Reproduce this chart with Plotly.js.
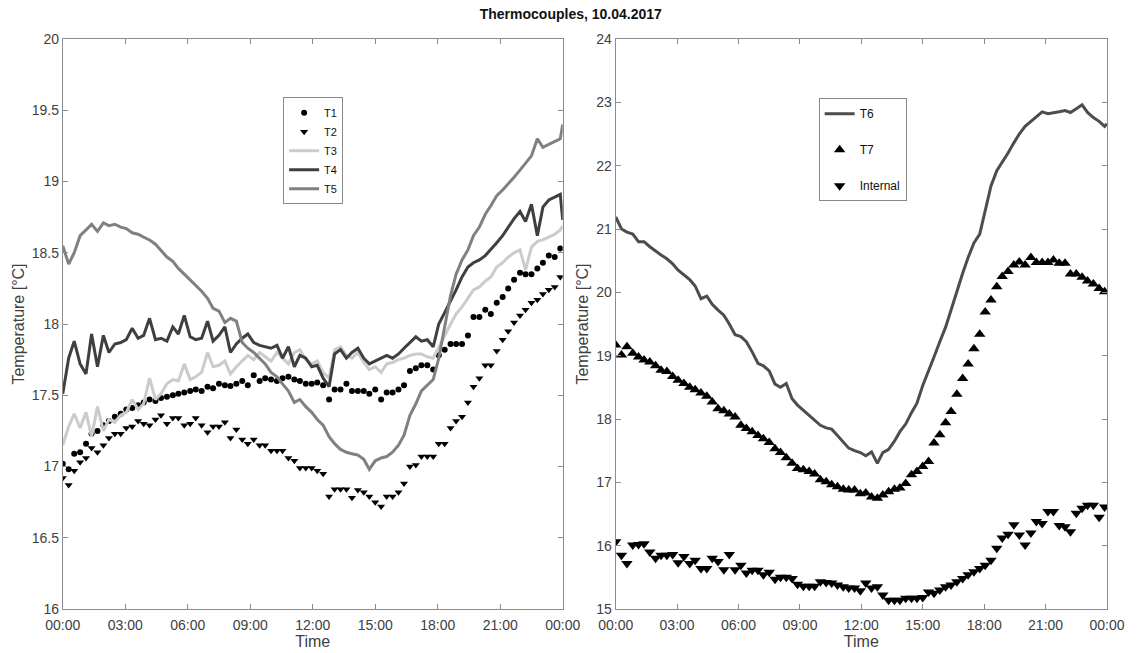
<!DOCTYPE html>
<html>
<head>
<meta charset="utf-8">
<script src="https://cdn.plot.ly/plotly-3.0.1.min.js"></script>
<style>html,body{margin:0;padding:0;background:#fff}#chart{width:1137px;height:653px}</style>
</head>
<body>
<div id="chart"></div>
<script>
// Sample times in minutes after 00:00 (1000 s sampling)
const SAMPLE_MIN = [0,17,33,50,67,83,100,117,133,150,167,183,200,217,233,250,267,283,300,317,333,350,367,383,400,417,433,450,467,483,500,517,533,550,567,583,600,617,633,650,667,683,700,717,733,750,767,783,800,817,833,850,867,883,900,917,933,950,967,983,1000,1017,1033,1050,1067,1083,1100,1117,1133,1150,1167,1183,1200,1217,1233,1250,1267,1283,1300,1317,1333,1350,1367,1383,1400,1417,1433];
const LINE_MIN = [0,17,33,50,67,83,100,117,133,150,167,183,200,217,233,250,267,283,300,317,333,350,367,383,400,417,433,450,467,483,500,517,533,550,567,583,600,617,633,650,667,683,700,717,733,750,767,783,800,817,833,850,867,883,900,917,933,950,967,983,1000,1017,1033,1050,1067,1083,1100,1117,1133,1150,1167,1183,1200,1217,1233,1250,1267,1283,1300,1317,1333,1350,1367,1383,1400,1417,1433,1440];

const T1 = [17.02,16.98,17.09,17.10,17.16,17.23,17.25,17.29,17.32,17.35,17.37,17.40,17.41,17.43,17.45,17.47,17.46,17.48,17.49,17.50,17.51,17.52,17.53,17.54,17.53,17.56,17.55,17.58,17.57,17.565,17.58,17.60,17.57,17.64,17.60,17.62,17.61,17.60,17.62,17.63,17.61,17.60,17.58,17.58,17.59,17.57,17.47,17.54,17.54,17.58,17.53,17.53,17.53,17.51,17.54,17.47,17.52,17.52,17.54,17.57,17.67,17.69,17.71,17.71,17.68,17.78,17.82,17.86,17.86,17.86,17.92,18.05,18.05,18.10,18.07,18.15,18.19,18.25,18.31,18.36,18.35,18.35,18.39,18.43,18.48,18.47,18.53];
const T2 = [16.92,16.87,16.97,17.03,17.06,17.13,17.10,17.15,17.20,17.23,17.23,17.27,17.28,17.32,17.30,17.29,17.33,17.36,17.30,17.34,17.34,17.29,17.30,17.34,17.29,17.24,17.28,17.28,17.31,17.20,17.26,17.19,17.16,17.19,17.15,17.15,17.11,17.11,17.11,17.06,17.04,16.99,16.99,16.99,16.97,16.95,16.79,16.84,16.84,16.84,16.78,16.835,16.82,16.79,16.75,16.72,16.79,16.79,16.82,16.88,17.00,17.01,17.07,17.07,17.07,17.16,17.16,17.27,17.32,17.35,17.45,17.56,17.62,17.71,17.71,17.81,17.89,17.95,18.01,18.06,18.10,18.15,18.17,18.21,18.24,18.26,18.33];
const T3 = [17.15,17.28,17.37,17.27,17.38,17.21,17.42,17.25,17.33,17.31,17.36,17.38,17.47,17.40,17.44,17.62,17.47,17.51,17.58,17.61,17.60,17.72,17.61,17.63,17.66,17.80,17.70,17.71,17.74,17.65,17.70,17.74,17.78,17.75,17.80,17.77,17.74,17.80,17.76,17.72,17.80,17.82,17.75,17.72,17.74,17.66,17.62,17.82,17.84,17.78,17.76,17.80,17.73,17.68,17.70,17.66,17.72,17.73,17.75,17.76,17.78,17.79,17.79,17.77,17.76,17.84,17.92,18.00,18.07,18.12,18.18,18.24,18.26,18.30,18.33,18.40,18.43,18.47,18.50,18.52,18.38,18.54,18.58,18.59,18.61,18.63,18.66,18.69];
const T4 = [17.51,17.76,17.88,17.72,17.65,17.93,17.70,17.92,17.80,17.86,17.87,17.89,17.97,17.90,17.92,18.04,17.89,17.90,17.88,17.98,17.93,18.06,17.91,17.89,17.90,18.02,17.88,17.92,17.98,17.80,17.86,17.90,17.93,17.87,17.85,17.84,17.83,17.85,17.76,17.84,17.70,17.78,17.76,17.70,17.71,17.62,17.56,17.79,17.82,17.76,17.80,17.83,17.76,17.72,17.74,17.76,17.78,17.76,17.79,17.83,17.87,17.91,17.88,17.89,17.84,18.00,18.08,18.16,18.24,18.33,18.40,18.43,18.45,18.48,18.52,18.57,18.62,18.68,18.74,18.79,18.72,18.84,18.62,18.82,18.87,18.89,18.91,18.73];
const T5 = [18.55,18.42,18.50,18.62,18.66,18.70,18.65,18.71,18.69,18.70,18.68,18.67,18.64,18.63,18.61,18.59,18.56,18.52,18.47,18.44,18.39,18.35,18.31,18.27,18.23,18.18,18.11,18.09,18.01,18.04,18.02,17.87,17.83,17.80,17.76,17.72,17.66,17.63,17.58,17.53,17.45,17.47,17.42,17.38,17.33,17.29,17.21,17.16,17.12,17.10,17.09,17.08,17.05,16.98,17.04,17.06,17.07,17.10,17.15,17.22,17.36,17.44,17.53,17.57,17.61,17.76,17.98,18.20,18.35,18.45,18.52,18.62,18.68,18.77,18.83,18.90,18.94,18.98,19.03,19.08,19.13,19.18,19.30,19.24,19.26,19.28,19.30,19.40];

const T6 = [21.19,21.00,20.95,20.92,20.80,20.80,20.72,20.65,20.59,20.53,20.45,20.35,20.28,20.20,20.10,19.90,19.94,19.81,19.72,19.64,19.50,19.33,19.30,19.22,19.06,18.88,18.84,18.76,18.55,18.50,18.56,18.32,18.22,18.14,18.05,17.98,17.90,17.86,17.84,17.74,17.64,17.54,17.50,17.47,17.42,17.48,17.30,17.47,17.52,17.65,17.80,17.92,18.10,18.25,18.53,18.75,18.98,19.22,19.45,19.72,20.02,20.30,20.55,20.78,20.92,21.30,21.68,21.92,22.05,22.20,22.36,22.50,22.62,22.70,22.78,22.85,22.82,22.84,22.85,22.87,22.84,22.90,22.96,22.84,22.76,22.70,22.62,22.66];
const T7 = [19.17,19.01,19.14,19.04,18.98,18.93,18.90,18.84,18.77,18.75,18.67,18.61,18.56,18.50,18.46,18.41,18.36,18.27,18.16,18.13,18.08,18.03,17.90,17.85,17.80,17.74,17.69,17.63,17.53,17.47,17.39,17.30,17.22,17.20,17.17,17.13,17.04,17.01,16.96,16.93,16.89,16.88,16.88,16.82,16.83,16.77,16.75,16.80,16.85,16.89,16.91,16.98,17.12,17.17,17.25,17.33,17.62,17.75,17.94,18.12,18.39,18.64,18.87,19.11,19.34,19.69,19.88,20.09,20.25,20.33,20.43,20.48,20.43,20.55,20.47,20.47,20.47,20.51,20.46,20.46,20.29,20.29,20.24,20.18,20.13,20.06,20.01];
const INTERNAL = [16.06,15.85,15.72,16.01,16.02,16.03,15.90,15.80,15.85,15.85,15.86,15.73,15.83,15.72,15.77,15.64,15.64,15.80,15.75,15.62,15.86,15.62,15.69,15.57,15.61,15.61,15.54,15.58,15.47,15.50,15.50,15.48,15.39,15.36,15.36,15.36,15.43,15.42,15.41,15.38,15.35,15.33,15.33,15.29,15.41,15.33,15.35,15.22,15.14,15.14,15.14,15.17,15.17,15.17,15.18,15.27,15.25,15.30,15.35,15.38,15.43,15.48,15.54,15.59,15.64,15.69,15.77,15.96,16.12,16.18,16.33,16.17,16.01,16.20,16.38,16.35,16.54,16.54,16.32,16.30,16.22,16.51,16.59,16.64,16.64,16.45,16.61];

const X_TICKS = [0,180,360,540,720,900,1080,1260,1440];
const X_LABELS = ['00:00','03:00','06:00','09:00','12:00','15:00','18:00','21:00','00:00'];
const Y1_TICKS = [16,16.5,17,17.5,18,18.5,19,19.5,20];
const Y1_LABELS = ['16','16.5','17','17.5','18','18.5','19','19.5','20'];
const Y2_TICKS = [15,16,17,18,19,20,21,22,23,24];
const Y2_LABELS = ['15','16','17','18','19','20','21','22','23','24'];

const FONT = 'Liberation Sans, Arial, sans-serif';
const AX = '#8c8c8c';

const traces = [
  {x: SAMPLE_MIN, y: T1, name: 'T1', mode: 'markers', type: 'scatter', xaxis: 'x', yaxis: 'y',
   marker: {symbol: 'circle', size: 6, color: '#000'}, legend: 'legend'},
  {x: SAMPLE_MIN, y: T2, name: 'T2', mode: 'markers', type: 'scatter', xaxis: 'x', yaxis: 'y',
   marker: {symbol: 'triangle-down', size: 7, color: '#000'}, legend: 'legend'},
  {x: LINE_MIN, y: T3, name: 'T3', mode: 'lines', type: 'scatter', xaxis: 'x', yaxis: 'y',
   line: {color: '#cbcbcb', width: 3}, legend: 'legend'},
  {x: LINE_MIN, y: T4, name: 'T4', mode: 'lines', type: 'scatter', xaxis: 'x', yaxis: 'y',
   line: {color: '#3f3f3f', width: 3}, legend: 'legend'},
  {x: LINE_MIN, y: T5, name: 'T5', mode: 'lines', type: 'scatter', xaxis: 'x', yaxis: 'y',
   line: {color: '#808080', width: 3}, legend: 'legend'},
  {x: LINE_MIN, y: T6, name: 'T6', mode: 'lines', type: 'scatter', xaxis: 'x2', yaxis: 'y2',
   line: {color: '#4d4d4d', width: 3}, legend: 'legend2', legendgroup: 'g6'},
  {x: SAMPLE_MIN, y: T7, name: 'T7', mode: 'markers', type: 'scatter', xaxis: 'x2', yaxis: 'y2',
   marker: {symbol: 'triangle-up', size: 10, color: '#000'}, legend: 'legend2', legendgroup: 'g7'},
  {x: SAMPLE_MIN, y: INTERNAL, name: 'Internal', mode: 'markers', type: 'scatter', xaxis: 'x2', yaxis: 'y2',
   marker: {symbol: 'triangle-down', size: 10, color: '#000'}, legend: 'legend2', legendgroup: 'gi'}
];

function xAxis(domain, anchor) {
  return {domain: domain, anchor: anchor, range: [0, 1440], tickmode: 'array', tickvals: X_TICKS, ticktext: X_LABELS,
    showline: true, mirror: 'ticks', linecolor: AX, linewidth: 1, ticks: 'inside', ticklen: 5, tickcolor: AX,
    ticklabelstandoff: 3,
    showgrid: false, zeroline: false, tickfont: {family: FONT, size: 14, color: '#404040'},
    title: {text: 'Time', font: {family: FONT, size: 16, color: '#404040'}, standoff: 4}};
}
function yAxis(range, tv, tt, anchor) {
  return {domain: [0, 1], anchor: anchor, range: range, tickmode: 'array', tickvals: tv, ticktext: tt,
    showline: true, mirror: 'ticks', linecolor: AX, linewidth: 1, ticks: 'inside', ticklen: 5, tickcolor: AX,
    showgrid: false, zeroline: false, tickfont: {family: FONT, size: 14, color: '#404040'},
    title: {text: 'Temperature [°C]', font: {family: FONT, size: 16, color: '#404040'}, standoff: 3}};
}

const layout = {
  width: 1137, height: 653,
  margin: {l: 0, r: 0, t: 39, b: 44},
  paper_bgcolor: '#fff', plot_bgcolor: '#fff',
  font: {family: FONT, color: '#222'},
  title: {text: '<b>Thermocouples, 10.04.2017</b>', x: 0.502, xanchor: 'center', y: 0.979, yanchor: 'middle', yref: 'container',
    font: {family: FONT, size: 14, color: '#111'}},
  xaxis: xAxis([0.0552, 0.4949], 'y'),
  yaxis: yAxis([16, 20], Y1_TICKS, Y1_LABELS, 'x'),
  xaxis2: xAxis([0.5415, 0.9736], 'y2'),
  yaxis2: yAxis([15, 24], Y2_TICKS, Y2_LABELS, 'x2'),
  showlegend: true,
  legend: {x: 0.249, y: 0.898, xanchor: 'left', yanchor: 'top', bgcolor: '#fff', bordercolor: '#888', borderwidth: 1,
    font: {family: FONT, size: 11, color: '#111'}, itemwidth: 30, tracegroupgap: 0},
  legend2: {x: 0.720, y: 0.896, xanchor: 'left', yanchor: 'top', bgcolor: '#fff', bordercolor: '#888', borderwidth: 1,
    font: {family: FONT, size: 12, color: '#111'}, itemwidth: 30, tracegroupgap: 17}
};

Plotly.newPlot('chart', traces, layout, {displayModeBar: false, staticPlot: true});
</script>
</body>
</html>
